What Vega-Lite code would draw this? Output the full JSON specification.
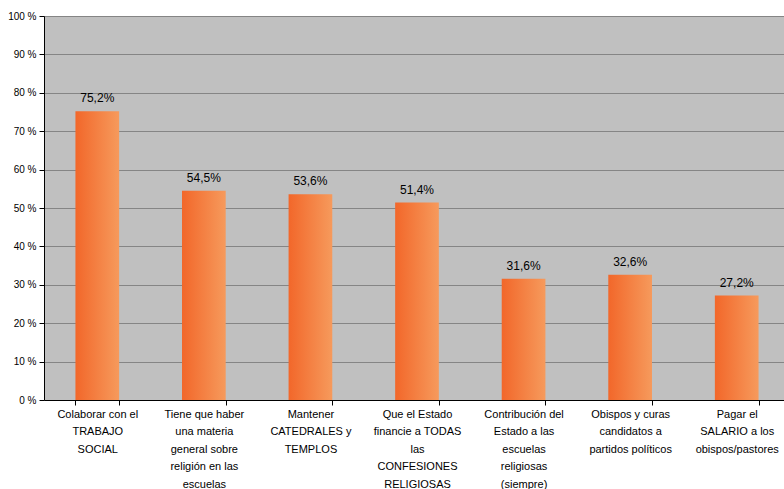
{
  "$schema": "https://vega.github.io/schema/vega-lite/v6.json",
  "autosize": "none",
  "width": 746,
  "height": 384,
  "padding": {"left": 44, "top": 16, "right": 0, "bottom": 89},
  "background": "white",
  "config": {
    "view": {"fill": "#C0C0C0", "stroke": null},
    "font": "Liberation Sans"
  },
  "data": {
    "values": [
      {"cat": "Colaborar con el|TRABAJO|SOCIAL", "v": 75.2, "lab": "75,2%"},
      {"cat": "Tiene que haber|una materia|general sobre|religión en las|escuelas", "v": 54.5, "lab": "54,5%"},
      {"cat": "Mantener|CATEDRALES y|TEMPLOS", "v": 53.6, "lab": "53,6%"},
      {"cat": "Que el Estado|financie a TODAS|las|CONFESIONES|RELIGIOSAS", "v": 51.4, "lab": "51,4%"},
      {"cat": "Contribución del|Estado a las|escuelas|religiosas|(siempre)", "v": 31.6, "lab": "31,6%"},
      {"cat": "Obispos y curas|candidatos a|partidos políticos", "v": 32.6, "lab": "32,6%"},
      {"cat": "Pagar el|SALARIO a los|obispos/pastores", "v": 27.2, "lab": "27,2%"}
    ]
  },
  "encoding": {
    "x": {
      "field": "cat", "type": "nominal", "sort": null,
      "scale": {"paddingInner": 0.59, "paddingOuter": 0.295},
      "axis": {
        "title": null, "labelAngle": 0,
        "labelExpr": "isValid(datum.value) ? split(datum.value, '|') : ''",
        "labelFontSize": 11, "labelLineHeight": 17.5, "labelColor": "#000",
        "labelPadding": 3, "labelBaseline": "top", "labelOverlap": false, "labelBound": false,
        "domainColor": "#000", "tickColor": "#000", "tickBand": "extent", "tickSize": 5,
        "grid": false
      }
    },
    "y": {
      "field": "v", "type": "quantitative",
      "scale": {"domain": [0, 100]},
      "axis": {
        "title": null, "values": [0,10,20,30,40,50,60,70,80,90,100],
        "labelExpr": "datum.value + ' %'",
        "labelFontSize": 10, "labelColor": "#000", "labelPadding": 3,
        "domainColor": "#000", "tickColor": "#000", "tickSize": 5,
        "grid": true, "gridColor": "#858585", "gridWidth": 1
      }
    }
  },
  "layer": [
    {
      "mark": {
        "type": "bar",
        "color": {
          "gradient": "linear", "x1": 0, "x2": 1, "y1": 0, "y2": 0,
          "stops": [
            {"offset": 0, "color": "#F2672A"},
            {"offset": 1, "color": "#F69A5C"}
          ]
        }
      }
    },
    {
      "mark": {"type": "text", "baseline": "bottom", "dy": -6, "fontSize": 12, "color": "#000"},
      "encoding": {"text": {"field": "lab"}}
    }
  ]
}
